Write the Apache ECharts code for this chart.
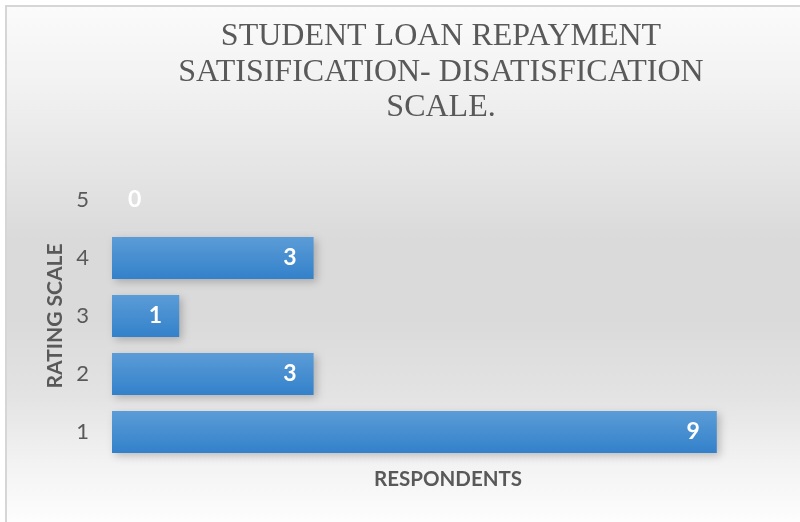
<!DOCTYPE html>
<html>
<head>
<meta charset="utf-8">
<script src="https://cdn.jsdelivr.net/npm/echarts@6/dist/echarts.min.js"></script>
<style>
  html, body { margin: 0; padding: 0; background: #ffffff; }
  #chart { width: 800px; height: 522px; }
</style>
</head>
<body>
<div id="chart"></div>
<script>
// Rating scale categories (bottom to top) and number of respondents for each
var ratings = ['1', '2', '3', '4', '5'];
var respondents = [9, 3, 1, 3, 0];

var titleLines = ['STUDENT LOAN REPAYMENT', 'SATISIFICATION- DISATISFICATION', 'SCALE.'];
var xAxisName = 'RESPONDENTS';
var yAxisName = 'RATING SCALE';

var chart = echarts.init(document.getElementById('chart'), null, { renderer: 'canvas' });

var barFill = new echarts.graphic.LinearGradient(0, 0, 0, 1, [
  { offset: 0, color: '#5b9cd7' },
  { offset: 1, color: '#3381ca' }
]);

var seriesData = respondents.map(function (v) {
  // an empty bar has no inside to hold its label, so it sits just past the axis
  return v === 0 ? { value: v, label: { position: 'insideLeft', distance: 16 } } : v;
});

chart.setOption({
  animation: false,
  graphic: [{
    type: 'rect',
    z: -10,
    silent: true,
    shape: { x: 6, y: 6, width: 800, height: 520 },
    style: {
      fill: new echarts.graphic.LinearGradient(0, 0, 0, 1, [
        { offset: 0, color: '#fbfbfb' },
        { offset: 0.15, color: '#f2f2f2' },
        { offset: 0.3, color: '#e6e6e6' },
        { offset: 0.45, color: '#dadada' },
        { offset: 0.6, color: '#dadada' },
        { offset: 0.75, color: '#e3e3e3' },
        { offset: 0.88, color: '#f3f3f3' },
        { offset: 1, color: '#fefefe' }
      ]),
      stroke: '#d6d6d6',
      lineWidth: 2
    }
  }],
  title: {
    text: titleLines.join('\n'),
    left: 436,
    top: 14,
    textAlign: 'center',
    textStyle: {
      fontFamily: '"Liberation Serif", "DejaVu Serif", serif',
      fontWeight: 'normal',
      fontSize: 32,
      lineHeight: 35.5,
      color: '#595959'
    }
  },
  grid: { left: 112, right: 16, top: 171, bottom: 61, containLabel: false },
  xAxis: {
    type: 'value',
    min: 0,
    max: 10,
    axisLabel: { show: false },
    axisLine: { show: false },
    axisTick: { show: false },
    splitLine: { show: false },
    name: xAxisName,
    nameLocation: 'middle',
    nameGap: 8,
    nameTextStyle: {
      fontFamily: 'Lato, "Open Sans", sans-serif',
      fontWeight: 'bold',
      fontSize: 20.5,
      color: '#595959'
    }
  },
  yAxis: {
    type: 'category',
    data: ratings,
    axisLine: { show: false },
    axisTick: { show: false },
    splitLine: { show: false },
    axisLabel: {
      margin: 23,
      fontFamily: 'Lato, "Open Sans", sans-serif',
      fontSize: 22,
      color: '#595959'
    },
    name: yAxisName,
    nameLocation: 'middle',
    nameGap: 46,
    nameRotate: 90,
    nameTextStyle: {
      fontFamily: 'Lato, "Open Sans", sans-serif',
      fontWeight: 'bold',
      fontSize: 21,
      color: '#595959'
    }
  },
  series: [{
    type: 'bar',
    data: seriesData,
    barCategoryGap: '28%',
    itemStyle: {
      color: barFill,
      shadowColor: 'rgba(0,0,0,0.22)',
      shadowBlur: 8,
      shadowOffsetX: 3,
      shadowOffsetY: 3
    },
    label: {
      show: true,
      position: 'insideRight',
      distance: 17,
      fontFamily: 'Lato, "Open Sans", sans-serif',
      fontWeight: 'bold',
      fontSize: 23,
      color: '#ffffff'
    }
  }]
});
</script>
</body>
</html>
